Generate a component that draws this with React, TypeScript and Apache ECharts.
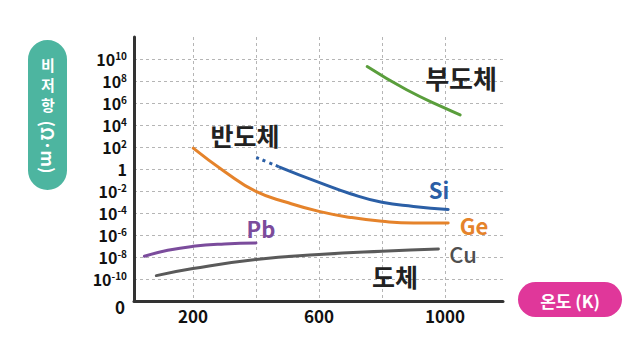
import React, { useEffect, useRef } from "react";
import * as echarts from "echarts";

// Temperature (K) / log10 resistivity (Ω·m)
const pbT = [46, 120, 200, 300, 400];
const pbLog = [-7.93, -7.39, -7.03, -6.81, -6.72];

const cuT = [84, 200, 400, 600, 800, 979];
const cuLog = [-9.69, -9.05, -8.23, -7.78, -7.48, -7.28];

const geT = [201, 300, 400, 500, 600, 700, 800, 900, 1010];
const geLog = [1.9, -0.22, -2.04, -3.05, -3.85, -4.4, -4.76, -4.92, -4.9];

const siDotT = [401, 475];
const siDotLog = [1.05, 0.18];

const siT = [475, 600, 700, 800, 900, 1010];
const siLog = [0.18, -1.22, -2.25, -3.03, -3.4, -3.68];

const insT = [753, 878, 1000, 1048];
const insLog = [9.31, 7.2, 5.53, 4.92];

const xLabelValues = [200, 600, 1000];
const xGridValues = [200, 400, 600, 800, 1000];
const yTickValues = [-10, -8, -6, -4, -2, 0, 2, 4, 6, 8, 10];
const yTitleChars = ["비", "저", "항"];

const FONT = '"Noto Sans CJK KR", "Noto Sans", sans-serif';

const pairs = (xs: number[], ys: number[]) => xs.map((x, i) => [x, ys[i]]);

export default function App() {
  const ref = useRef<HTMLDivElement>(null);

  useEffect(() => {
    if (!ref.current) return;
    const chart = echarts.init(ref.current, null, { renderer: "svg" });

    const lineSeries = (name: string, xs: number[], ys: number[], color: string, dashed = false) => ({
      name,
      type: "line",
      data: pairs(xs, ys),
      smooth: true,
      showSymbol: false,
      silent: true,
      lineStyle: { color, width: 3, type: dashed ? [3, 4] : "solid", cap: dashed ? "butt" : "round" },
    });

    const txt = (text: string, x: number, y: number, size: number, fill: string, weight: any = "bold", rotation = 0) => ({
      type: "text",
      x,
      y,
      rotation,
      z: 100,
      style: {
        text,
        align: "center",
        verticalAlign: "middle",
        fontSize: size,
        fontWeight: weight,
        fontFamily: FONT,
        fill,
      },
    });

    chart.setOption({
      animation: false,
      backgroundColor: "#ffffff",
      grid: { left: 134, right: 137, top: 37, bottom: 57, outerBoundsMode: "none" },
      xAxis: {
        type: "value",
        min: 13,
        max: 1184,
        axisLine: { show: true, onZero: false, lineStyle: { color: "#333", width: 3 } },
        axisTick: { show: false, customValues: xGridValues },
        axisLabel: {
          customValues: xLabelValues,
          formatter: (v: number) => String(Math.round(v)),
          fontSize: 17,
          fontWeight: "bold",
          fontFamily: FONT,
          color: "#111",
          margin: 6,
        },
        splitLine: { show: true, lineStyle: { color: "#b5b5b5", width: 1, type: [3, 3] } },
      },
      yAxis: {
        type: "value",
        min: -12,
        max: 12,
        axisLine: { show: true, onZero: false, lineStyle: { color: "#333", width: 3 } },
        axisTick: { show: false, customValues: yTickValues },
        axisLabel: {
          customValues: yTickValues,
          margin: 7,
          formatter: (v: number) => {
            const n = Math.round(v);
            if (n === 0) return "{b|1}";
            return `{b|10}{s|${n}}`;
          },
          rich: {
            b: { fontSize: 16, fontWeight: "bold", fontFamily: FONT, color: "#111", lineHeight: 18 },
            s: { fontSize: 10, fontWeight: "bold", fontFamily: FONT, color: "#111", lineHeight: 11, verticalAlign: "top" },
          },
        },
        splitLine: { show: true, lineStyle: { color: "#b5b5b5", width: 1, type: [3, 3] } },
      },
      series: [
        lineSeries("Pb", pbT, pbLog, "#7b4c9c"),
        lineSeries("Cu", cuT, cuLog, "#5a5a5a"),
        lineSeries("Ge", geT, geLog, "#e5832b"),
        lineSeries("Si-dot", siDotT, siDotLog, "#2b5fa6", true),
        lineSeries("Si", siT, siLog, "#2b5fa6"),
        lineSeries("부도체", insT, insLog, "#5a9e3c"),
      ],
      graphic: [
        { type: "rect", shape: { x: 28, y: 40, width: 39, height: 150, r: 19.5 }, style: { fill: "#4db5a0" } },
        ...yTitleChars.map((c, i) => txt(c, 48, 64.5 + i * 20, 15, "#fff")),
        txt("(Ω·m)", 48, 147, 17, "#fff", "bold", -Math.PI / 2),
        { type: "rect", shape: { x: 518, y: 282, width: 104, height: 35, r: 17.5 }, style: { fill: "#e0379a" } },
        txt("온도 (K)", 570, 300, 17, "#fff"),
        txt("0", 120, 306.5, 17, "#111"),
        txt("부도체", 461, 77, 26, "#222"),
        txt("반도체", 245, 135, 25, "#222"),
        txt("도체", 395, 276, 25, "#222"),
        txt("Si", 439, 189, 22, "#2b5fa6"),
        txt("Ge", 474, 225, 22, "#e5832b"),
        txt("Pb", 261, 228, 22, "#7b4c9c"),
        txt("Cu", 463, 253, 22, "#4f4f4f", 500),
      ],
    });

    return () => chart.dispose();
  }, []);

  return (
    <div
      ref={ref}
      style={{ position: "fixed", left: 0, top: 0, width: 640, height: 358, background: "#fff" }}
    />
  );
}
